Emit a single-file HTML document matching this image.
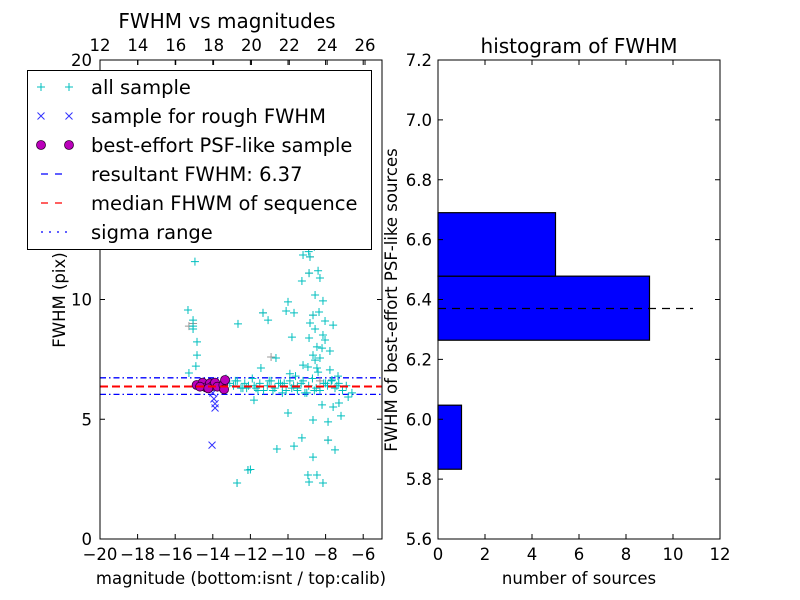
<!DOCTYPE html>
<html><head><meta charset="utf-8"><style>
body{margin:0;background:#fff}
svg{display:block;font-family:"DejaVu Sans","Liberation Sans",sans-serif}
</style></head><body>
<svg id="fig" width="800" height="600" viewBox="0 0 800 600" xmlns="http://www.w3.org/2000/svg">
<rect width="800" height="600" fill="#fff"/>
<g id="left"></g>
<g id="right"></g>
</svg>
<script>
// ---- left scatter data (magnitude, FWHM) ----
const allMag = [-15.32,-15.05,-15.05,-15.05,-14.84,-14.84,-14.9,-15.27,-14.95,-12.66,-11.33,-11.06,-10.64,-11.44,-11.81,-10.0,-10.59,-12.13,-12.0,-12.71,-10.0,-10.1,-9.68,-9.79,-9.26,-9.68,-8.94,-8.88,-8.46,-8.14,-8.67,-7.87,-7.5,-8.67,-7.87,-7.18,-8.19,-7.6,-7.29,-6.8,-9.2,-8.83,-8.88,-8.4,-9.26,-8.3,-8.56,-8.14,-8.67,-8.35,-8.03,-7.6,-8.83,-8.56,-8.88,-8.14,-8.03,-8.46,-8.19,-7.77,-8.3,-8.67,-9.2,-8.94,-8.46,-8.56,-7.77,-8.4,-7.34,-7.66,-9.5,-9.9,-10.3,-8.9,-8.6,
-13.1,-12.9,-12.7,-12.5,-12.3,-12.1,-11.9,-11.7,-11.5,-11.3,-11.1,-10.9,-10.7,-10.5,-10.3,-10.1,-9.9,-9.7,-9.5,-9.3,-9.1,-8.9,-8.7,-8.5,-8.3,-8.1,-7.9,-7.7,-7.5,-7.3,-7.1,-6.9,-6.6,-12.8,-12.2,-11.6,-11.0,-10.4,-9.8,-9.2,-8.6,-8.0,-7.4,-13.3,-12.4,-11.8,-10.8,-10.2,-9.6,-9.0];
const allFwhm = [9.56,9.14,8.89,8.77,8.23,7.68,7.22,6.93,11.58,8.98,9.44,9.14,7.56,7.14,5.80,5.26,3.76,2.88,2.9,2.34,9.9,9.52,9.44,8.43,4.22,3.88,2.67,2.38,2.67,2.34,3.42,4.13,3.72,4.97,4.89,5.14,5.6,5.51,5.68,5.93,11.86,11.78,11.1,11.2,10.77,10.9,10.19,9.94,9.35,9.48,9.1,8.93,9.02,8.77,8.39,8.52,8.31,8.02,7.97,7.85,7.56,7.68,7.26,7.18,7.14,7.47,7.06,6.97,6.8,6.64,6.2,6.9,6.1,12.0,12.2,
6.5,6.4,6.6,6.3,6.5,6.4,6.7,6.3,6.5,6.2,6.4,6.6,6.3,6.5,6.4,6.2,6.6,6.4,6.3,6.5,6.1,6.4,6.7,6.3,6.2,6.5,6.4,6.6,6.3,6.5,6.2,6.4,6.1,6.6,6.3,6.2,6.6,6.5,6.3,6.6,6.2,6.5,6.4,6.7,6.3,6.4,6.2,6.5,6.8,6.1];
const grayMag = [-15.27,-15.05,-11.33,-12.71,-12.13,-8.14,-7.87,-8.83,-8.88,-7.29,-8.67,-10.9,-9.5,-8.3];
const grayFwhm = [8.89,9.0,9.44,2.34,2.88,2.34,4.13,11.78,11.1,5.68,9.35,7.6,6.4,6.6];
const roughMag = [-13.94,-13.88,-14.04,-13.88,-14.2,-14.0];
const roughFwhm = [5.85,5.47,3.92,5.65,6.4,6.1];
const psfMag = [-14.86,-14.54,-14.36,-14.15,-14.01,-13.88,-13.76,-13.44,-13.35,-13.4,-14.68,-14.24];
const psfFwhm = [6.43,6.53,6.33,6.5,6.39,6.53,6.36,6.43,6.64,6.25,6.36,6.29];
const resultantFwhm = 6.37, medianFwhm = 6.37, sigmaLow = 6.04, sigmaHigh = 6.73;
const xTicks = [-20,-18,-16,-14,-12,-10,-8,-6];
const topTicks = [12,14,16,18,20,22,24,26];
const yTicks = [0,5,10,20];
// ---- right histogram data ----
const binEdges = [5.833,6.047,6.264,6.478,6.69];
const binCounts = [1,0,9,5];
const histXTicks = [0,2,4,6,8,10,12];
const histYTicks = [5.6,5.8,6.0,6.2,6.4,6.6,6.8,7.0,7.2];
const histLineEnd = 10.85;

const NS="http://www.w3.org/2000/svg";
const CYAN='#00bfbf';
function mk(parent,tag,attrs,name){const e=document.createElementNS(NS,tag);for(const k in attrs)e.setAttribute(k,attrs[k]);


parent.appendChild(e);return e;}
function txt(parent,x,y,s,size,anchor,name,extra){const t=mk(parent,'text',Object.assign({x:x,y:y,'font-size':size,'text-anchor':anchor||'middle',fill:'#000'},extra||{}),name);t.textContent=s;return t;}

// left axes
const L={x0:100,x1:382,y0:539,y1:60};
const lx=v=>L.x0+(v+20)/15*(L.x1-L.x0);
const ly=v=>L.y0-v/20*(L.y0-L.y1);
const ltx=v=>L.x0+(v-12)*18.93;
const g=document.getElementById('left');
mk(g,'rect',{x:L.x0,y:L.y1,width:L.x1-L.x0,height:L.y0-L.y1,fill:'#fff',stroke:'none'},'plot-area');
mk(g,'line',{x1:L.x0,x2:L.x1,y1:ly(sigmaHigh),y2:ly(sigmaHigh),stroke:'#00f','stroke-width':1.3,'stroke-dasharray':'6,3,1.5,3'},'sigma-high-line');
mk(g,'line',{x1:L.x0,x2:L.x1,y1:ly(sigmaLow),y2:ly(sigmaLow),stroke:'#00f','stroke-width':1.3,'stroke-dasharray':'6,3,1.5,3'},'sigma-low-line');
function plus(x,y,c,n){mk(g,'path',{d:`M${x-4} ${y}H${x+4}M${x} ${y-4}V${y+4}`,stroke:c,'stroke-width':1,fill:'none'},n);}
grayMag.forEach((m,i)=>plus(lx(m),ly(grayFwhm[i]),'#999','gray-point'));
allMag.forEach((m,i)=>plus(lx(m),ly(allFwhm[i]),CYAN,'all-sample-point'));
roughMag.forEach((m,i)=>{const x=lx(m),y=ly(roughFwhm[i]);mk(g,'path',{d:`M${x-3.5} ${y-3.5}L${x+3.5} ${y+3.5}M${x-3.5} ${y+3.5}L${x+3.5} ${y-3.5}`,stroke:'#33f','stroke-width':1,fill:'none'},'rough-sample-point');});
mk(g,'line',{x1:L.x0,x2:L.x1,y1:ly(resultantFwhm),y2:ly(resultantFwhm),stroke:'#00f','stroke-width':2,'stroke-dasharray':'8,4'},'resultant-fwhm-line');
psfMag.forEach((m,i)=>mk(g,'circle',{cx:lx(m),cy:ly(psfFwhm[i]),r:4.5,fill:'#b0b',stroke:'#303','stroke-width':0.8},'psf-sample-point'));
mk(g,'line',{x1:L.x0,x2:L.x1,y1:ly(medianFwhm),y2:ly(medianFwhm),stroke:'#f00','stroke-width':2,'stroke-dasharray':'8,4'},'median-fwhm-line');
mk(g,'rect',{x:L.x0,y:L.y1,width:L.x1-L.x0,height:L.y0-L.y1,fill:'none',stroke:'#000','stroke-width':1},'left-frame');
xTicks.forEach(v=>{const x=lx(v);mk(g,'path',{d:`M${x} ${L.y0}v-5M${x} ${L.y1}v5`,stroke:'#000'},'x-tick');txt(g,x,L.y0+21,(v<0?'\u2212':'')+Math.abs(v),16.5,'middle','x-tick-label');});
topTicks.forEach(v=>{const x=ltx(v);mk(g,'path',{d:`M${x} ${L.y1}v5`,stroke:'#000'},'top-tick');txt(g,x,L.y1-9,String(v),16.5,'middle','top-tick-label');});
yTicks.forEach(v=>{const y=ly(v);mk(g,'path',{d:`M${L.x0} ${y}h5M${L.x1} ${y}h-5`,stroke:'#000'},'y-tick');txt(g,L.x0-8,y+6,String(v),16.5,'end','y-tick-label');});
txt(g,227,28,'FWHM vs magnitudes',20,'middle','left-title');
txt(g,241,584,'magnitude (bottom:isnt / top:calib)',16.5,'middle','x-axis-title');
txt(g,65,300,'FWHM (pix)',16.5,'middle','y-axis-title',{transform:'rotate(-90 65 300)'});
// legend
const lg=mk(g,'g',{},'legend');
mk(lg,'rect',{x:27.5,y:70.5,width:344,height:179,fill:'#fff',stroke:'#000','stroke-width':1},'legend-box');
const items=[['all sample','plus'],['sample for rough FWHM','x'],['best-effort PSF-like sample','dot'],['resultant FWHM: 6.37','bdash'],['median FHWM of sequence','rdash'],['sigma range','dashdot']];
items.forEach((it,i)=>{const y=87+i*29;
 [41,69].forEach(x=>{
  if(it[1]=='plus')mk(lg,'path',{d:`M${x-4} ${y}H${x+4}M${x} ${y-4}V${y+4}`,stroke:CYAN},'legend-marker');
  if(it[1]=='x')mk(lg,'path',{d:`M${x-3.5} ${y-3.5}L${x+3.5} ${y+3.5}M${x-3.5} ${y+3.5}L${x+3.5} ${y-3.5}`,stroke:'#33f'},'legend-marker');
  if(it[1]=='dot')mk(lg,'circle',{cx:x,cy:y,r:4.5,fill:'#b0b',stroke:'#303','stroke-width':0.8},'legend-marker');
 });
 if(it[1]=='bdash')mk(lg,'line',{x1:41,x2:69,y1:y,y2:y,stroke:'#00f','stroke-width':1.3,'stroke-dasharray':'7,7'},'legend-line');
 if(it[1]=='rdash')mk(lg,'line',{x1:41,x2:69,y1:y,y2:y,stroke:'#f00','stroke-width':1.3,'stroke-dasharray':'7,7'},'legend-line');
 if(it[1]=='dashdot')mk(lg,'line',{x1:41,x2:69,y1:y,y2:y,stroke:'#00f','stroke-width':1.3,'stroke-dasharray':'2,6'},'legend-line');
 txt(lg,91,y+7,it[0],19.5,'start','legend-label');
});

// right histogram
const R={x0:438,x1:720,y0:539,y1:60};
const rx=v=>R.x0+v/12*(R.x1-R.x0);
const ry=v=>R.y0-(v-5.6)/1.6*(R.y0-R.y1);
const h=document.getElementById('right');
binCounts.forEach((c,i)=>{if(!c)return;const y1=ry(binEdges[i+1]),y2=ry(binEdges[i]);
 mk(h,'rect',{x:rx(0),y:y1,width:rx(c)-rx(0),height:y2-y1,fill:'#00f',stroke:'#000','stroke-width':1.2},'hist-bar');});
mk(h,'line',{x1:rx(0),x2:rx(histLineEnd),y1:ry(resultantFwhm),y2:ry(resultantFwhm),stroke:'#000','stroke-width':1.2,'stroke-dasharray':'8,6'},'hist-fwhm-line');
mk(h,'rect',{x:R.x0,y:R.y1,width:R.x1-R.x0,height:R.y0-R.y1,fill:'none',stroke:'#000','stroke-width':1},'right-frame');
histXTicks.forEach(v=>{const x=rx(v);mk(h,'path',{d:`M${x} ${R.y0}v-5M${x} ${R.y1}v5`,stroke:'#000'},'hist-x-tick');txt(h,x,R.y0+21,String(v),16.5,'middle','hist-x-tick-label');});
histYTicks.forEach(v=>{const y=ry(v);mk(h,'path',{d:`M${R.x0} ${y}h5M${R.x1} ${y}h-5`,stroke:'#000'},'hist-y-tick');txt(h,R.x0-6,y+6,v.toFixed(1),16.5,'end','hist-y-tick-label');});
txt(h,579,53,'histogram of FWHM',20,'middle','right-title');
txt(h,579,584,'number of sources',16.5,'middle','hist-x-axis-title');
txt(h,397,300,'FWHM of best-effort PSF-like sources',16.5,'middle','hist-y-axis-title',{transform:'rotate(-90 397 300)'});
</script>
</body></html>
